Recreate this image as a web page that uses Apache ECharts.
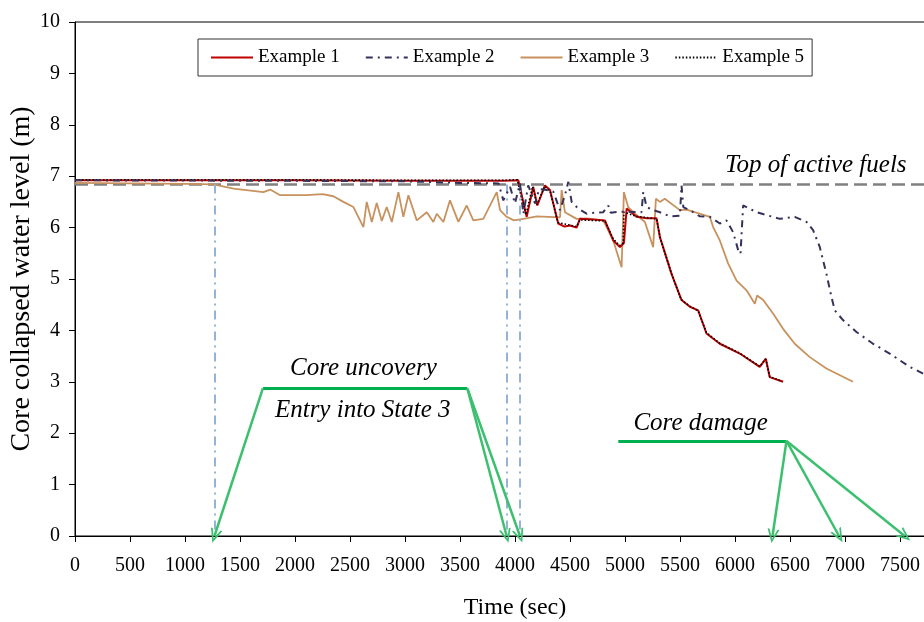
<!DOCTYPE html>
<html>
<head>
<meta charset="utf-8">
<script src="https://cdn.jsdelivr.net/npm/echarts@6/dist/echarts.min.js"></script>
<style>html,body{margin:0;padding:0;background:#fff;}#c{width:924px;height:622px;}</style>
</head>
<body>
<div id="c"></div>
<script>
// ---- data ----
var ex1T = [0,1000,2000,3000,3900,4030,4106,4166,4203,4272,4318,4393,4450,4500,4560,4590,4700,4817,4893,4954,4990,5015,5105,5200,5287,5317,5423,5514,5590,5665,5741,5862,6044,6225,6280,6316,6437];
var ex1V = [6.92,6.92,6.92,6.91,6.91,6.92,6.21,6.79,6.43,6.82,6.73,6.08,6.02,6.04,6.00,6.17,6.16,6.14,5.75,5.62,5.70,6.37,6.21,6.18,6.18,5.82,5.10,4.59,4.46,4.39,3.94,3.74,3.55,3.29,3.45,3.09,3.00];
var ex5T = [0,1000,2000,3000,3900,4020,4100,4160,4200,4270,4320,4390,4560,4590,4817,4893,4950,4984,4990,5100,5287,5320,5420,5510,5590,5665,5740,5860,6040,6225,6280,6316,6430];
var ex5V = [6.93,6.93,6.93,6.92,6.92,6.93,6.25,6.80,6.45,6.80,6.70,6.10,6.02,6.15,6.13,5.78,5.65,5.70,6.30,6.22,6.17,5.80,5.12,4.60,4.47,4.38,3.96,3.75,3.56,3.30,3.44,3.10,3.01];
var ex3T = [0,500,1000,1259,1441,1713,1774,1865,2100,2250,2349,2440,2531,2622,2652,2698,2743,2789,2834,2880,2940,2985,3031,3107,3198,3258,3289,3349,3409,3485,3561,3621,3712,3834,3864,3924,3990,4076,4200,4409,4424,4454,4560,4651,4802,4893,4969,4990,5029,5075,5181,5256,5281,5317,5362,5499,5560,5771,5801,5862,5938,6014,6105,6180,6201,6256,6346,6437,6543,6680,6831,7073];
var ex3V = [6.87,6.86,6.85,6.84,6.76,6.69,6.74,6.63,6.63,6.65,6.61,6.50,6.40,6.01,6.50,6.11,6.48,6.13,6.40,6.11,6.69,6.21,6.63,6.14,6.30,6.11,6.27,6.11,6.53,6.11,6.43,6.14,6.17,6.69,6.34,6.21,6.14,6.17,6.22,6.20,6.73,6.30,6.17,6.18,6.14,5.75,5.23,6.69,6.40,6.30,6.11,5.62,6.56,6.50,6.56,6.34,6.35,6.21,6.01,5.75,5.30,4.97,4.78,4.52,4.68,4.59,4.33,4.03,3.74,3.48,3.26,3.00];
var ex2T = [0,2000,3000,3500,3850,3894,3955,4000,4045,4076,4120,4182,4220,4288,4348,4409,4454,4485,4515,4575,4651,4727,4802,4848,4870,4954,5150,5166,5196,5256,5317,5408,5499,5514,5530,5620,5680,5771,5862,5923,5983,6029,6050,6074,6105,6195,6407,6543,6650,6710,6771,6831,6877,6907,6982,7104,7255,7406,7588,7720];
var ex2V = [6.92,6.91,6.90,6.87,6.86,6.53,6.79,6.47,6.86,6.27,6.82,6.47,6.75,6.73,6.70,6.34,6.63,6.89,6.50,6.37,6.27,6.29,6.30,6.43,6.29,6.31,6.30,6.69,6.40,6.34,6.30,6.22,6.23,6.82,6.40,6.30,6.22,6.21,6.08,6.14,5.91,5.56,5.49,6.43,6.40,6.30,6.17,6.21,6.11,5.95,5.62,5.10,4.65,4.39,4.20,3.97,3.74,3.55,3.29,3.15];
var tafLevel = 6.84;
var markerTimes = [1268, 3924, 4045];
var uncoveryBar = [[1708, 2.87], [3567, 2.87]];
var uncoveryTargets = [[1268, 0], [3924, 0], [4045, 0]];
var damageBar = [[4939, 1.85], [6468, 1.85]];
var damageTargets = [[6341, 0], [6946, 0], [7543, 0]];
var noteTexts = ['Top of active fuels', 'Core uncovery', 'Entry into State 3', 'Core damage'];
var notePos = [[6734, 7.21], [2622, 3.26], [2616, 2.45], [5688, 2.19]];
var yTitle = 'Core collapsed water level (m)';

function zip(t, v){ return t.map(function(x,i){ return [x, v[i]]; }); }

var FONT = '"Liberation Serif", "Times New Roman", serif';
var arrowHead = 'path://M5,0 L10,11 L8.4,11 L5,3.4 L1.6,11 L0,11 Z';

var blueLines = markerTimes.map(function(t){ return [{coord:[t, tafLevel]}, {coord:[t, 0]}]; });
var greenBars = [
  [{coord: uncoveryBar[0], symbol:'none'}, {coord: uncoveryBar[1], symbol:'none'}],
  [{coord: damageBar[0], symbol:'none'}, {coord: damageBar[1], symbol:'none'}]
];
var greenArrows = [
  [{coord: uncoveryBar[0], symbol:'none'}, {coord: uncoveryTargets[0], symbol: arrowHead}],
  [{coord: uncoveryBar[1], symbol:'none'}, {coord: uncoveryTargets[1], symbol: arrowHead}],
  [{coord: uncoveryBar[1], symbol:'none'}, {coord: uncoveryTargets[2], symbol: arrowHead}]
].concat(damageTargets.map(function(p){
  return [{coord: damageBar[1], symbol:'none'}, {coord: p, symbol: arrowHead}];
}));

var chart = echarts.init(document.getElementById('c'), null, {renderer:'canvas'});
chart.setOption({
  animation: false,
  backgroundColor: '#fff',
  grid: {left: 75, top: 22, right: -31, bottom: 86, containLabel: false, outerBoundsMode: 'none',
         show: true, borderColor: '#000', borderWidth: 1, backgroundColor: 'transparent'},
  legend: {
    data: ['Example 1','Example 2','Example 3','Example 5'],
    left: 198, top: 39,
    padding: [9, 8, 9, 12],
    itemWidth: 42, itemHeight: 14, itemGap: 25,
    itemStyle: {opacity: 0},
    backgroundColor: '#fff', borderColor: '#333', borderWidth: 1, borderRadius: 0,
    textStyle: {fontFamily: FONT, fontSize: 19, color: '#000'},
    selectedMode: false
  },
  xAxis: {
    type: 'value', min: 0, max: 8000, interval: 500,
    name: 'Time (sec)', nameLocation: 'middle', nameGap: 60,
    nameTextStyle: {fontFamily: FONT, fontSize: 24, color: '#000'},
    axisLine: {show: true, lineStyle: {color: '#000', width: 1}},
    axisTick: {show: true, length: 6, lineStyle: {color: '#000'}},
    axisLabel: {fontFamily: FONT, fontSize: 20, color: '#000', margin: 20, showMaxLabel: false,
                formatter: function(v){ return String(v); }},
    splitLine: {show: false}
  },
  yAxis: {
    type: 'value', min: 0, max: 10, interval: 1,
    axisLine: {show: true, lineStyle: {color: '#000', width: 1}},
    axisTick: {show: true, length: 6, lineStyle: {color: '#000'}},
    axisLabel: {fontFamily: FONT, fontSize: 20, color: '#000', margin: 15,
                formatter: function(v){ return String(v); }},
    splitLine: {show: false}
  },
  series: [
    {
      name: 'TAF', type: 'line', data: [[0, tafLevel], [8000, tafLevel]], symbol: 'none', silent: true,
      lineStyle: {color: '#808080', width: 2.5, type: [13, 6]}, z: 1
    },
    {
      name: 'Example 3', type: 'line', data: zip(ex3T, ex3V), symbol: 'none',
      lineStyle: {color: '#C8925E', width: 1.8}, itemStyle: {color: '#C8925E'}, z: 3
    },
    {
      name: 'Example 1', type: 'line', data: zip(ex1T, ex1V), symbol: 'none',
      lineStyle: {color: '#C00000', width: 2}, itemStyle: {color: '#C00000'}, z: 4
    },
    {
      name: 'Example 5', type: 'line', data: zip(ex5T, ex5V), symbol: 'none',
      lineStyle: {color: '#000', width: 1.6, type: [1.5, 2]}, itemStyle: {color: '#000'}, z: 5
    },
    {
      name: 'Example 2', type: 'line', data: zip(ex2T, ex2V), symbol: 'none',
      lineStyle: {color: '#35325A', width: 2, type: [7, 5, 2, 5]}, itemStyle: {color: '#35325A'}, z: 6
    },
    {
      name: 'markers', type: 'line', data: [], symbol: 'none', silent: true, z: 2,
      markLine: {
        silent: true, symbol: ['none','none'], label: {show: false},
        lineStyle: {color: '#95B3D7', width: 2, type: [9, 5, 2, 5]},
        emphasis: {disabled: true},
        data: blueLines
      }
    },
    {
      name: 'greenBars', type: 'line', data: [], symbol: 'none', silent: true, z: 7,
      markLine: {
        silent: true, symbol: ['none','none'], label: {show: false},
        lineStyle: {color: '#00B050', width: 3, type: 'solid'},
        emphasis: {disabled: true},
        data: greenBars
      }
    },
    {
      name: 'greenArrows', type: 'line', data: [], symbol: 'none', silent: true, z: 7,
      markLine: {
        silent: true, symbolSize: [12, 14], label: {show: false},
        lineStyle: {color: '#3DBF70', width: 2.5, type: 'solid'},
        itemStyle: {color: '#3DBF70'},
        emphasis: {disabled: true},
        data: greenArrows
      }
    }
  ]
});

// annotation texts placed through the chart's own coordinate system
var graphics = noteTexts.map(function(txt, i){
  var p = chart.convertToPixel({gridIndex: 0}, notePos[i]);
  return {
    type: 'text', x: p[0], y: p[1], z: 100, silent: true,
    style: {text: txt, fill: '#000', font: 'italic 25px ' + FONT, align: 'center', verticalAlign: 'middle'}
  };
});
var midY = chart.convertToPixel({gridIndex: 0}, [0, 5])[1];
graphics.push({
  type: 'text', x: 22, y: midY, rotation: Math.PI / 2, z: 100, silent: true,
  style: {text: yTitle, fill: '#000', font: '28px ' + FONT, align: 'center', verticalAlign: 'middle'}
});
chart.setOption({graphic: graphics});
</script>
</body>
</html>
